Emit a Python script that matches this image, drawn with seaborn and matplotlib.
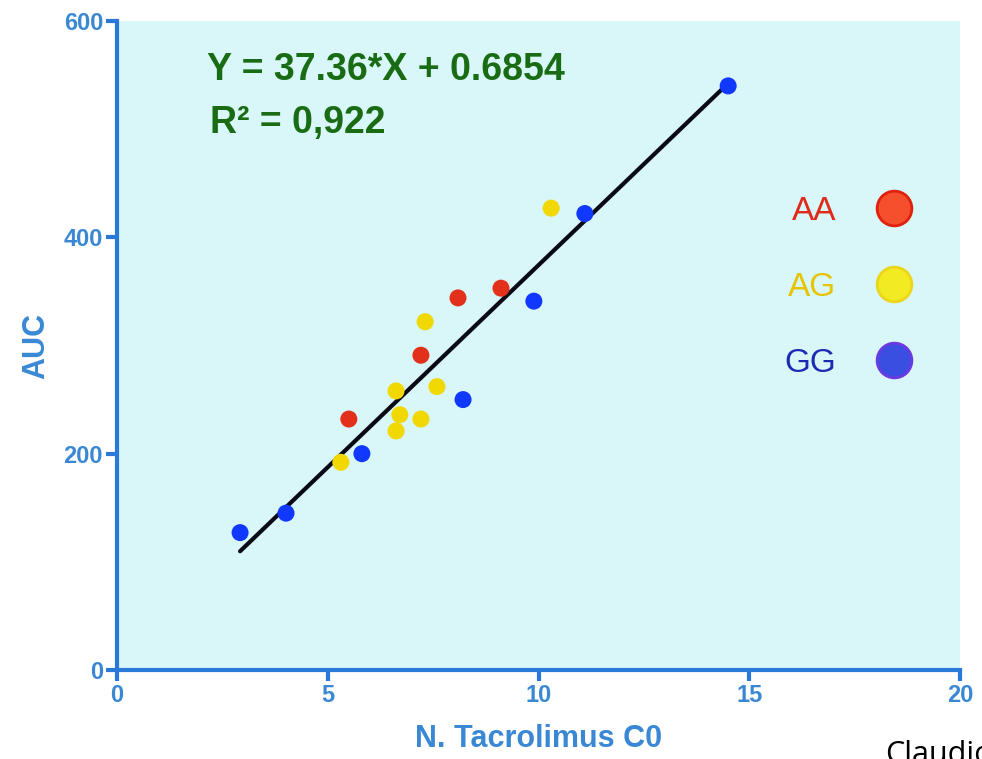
import matplotlib
matplotlib.use("Agg")
import matplotlib.pyplot as plt
from matplotlib.lines import Line2D
import numpy as np
import pandas as pd
import seaborn as sns

# values
AA_X = [5.50, 7.21, 8.09, 9.11]
AA_Y = [232, 291, 344, 353]
AG_X = [5.31, 6.62, 6.71, 7.21, 6.62, 7.59, 7.31, 10.30]
AG_Y = [192, 221, 236, 232, 258, 262, 322, 427]
GG_X = [2.92, 4.01, 5.81, 8.21, 9.89, 11.10, 14.50]
GG_Y = [127, 145, 200, 250, 341, 422, 540]
GENOTYPES = ["AA", "AG", "GG"]

SLOPE = 37.36
INTERCEPT = 0.6854
R2_TEXT = "0,922"

X_TICKS = [0, 5, 10, 15, 20]
Y_TICKS = [0, 200, 400, 600]

POINT_COLORS = {"AA": "#e2301a", "AG": "#f0d800", "GG": "#1038ff"}
LEGEND_FACE = {"AA": "#f5502e", "AG": "#f2ea22", "GG": "#3a4ee2"}
LEGEND_EDGE = {"AA": "#e0200e", "AG": "#ecd61c", "GG": "#6a3ae0"}
LEGEND_TEXT = {"AA": "#e02a1a", "AG": "#e6c400", "GG": "#1a2ab4"}
AXIS_BLUE = "#2a78d8"
LABEL_BLUE = "#3a88d4"
EQ_GREEN = "#1a6c14"

sns.set_theme(style="ticks")
plt.rcParams["font.family"] = ["Liberation Sans", "DejaVu Sans"]

df = pd.DataFrame({
    "x": AA_X + AG_X + GG_X,
    "y": AA_Y + AG_Y + GG_Y,
    "genotype": ["AA"] * len(AA_X) + ["AG"] * len(AG_X) + ["GG"] * len(GG_X),
})

fig, ax = plt.subplots(figsize=(9.82, 7.59), dpi=100)
fig.subplots_adjust(left=117 / 982, right=960 / 982,
                    bottom=1 - 670 / 759, top=1 - 21 / 759)
ax.set_facecolor("#d9f6f8")

# regression line over the range of the data
xs = np.array([df["x"].min(), df["x"].max()])
line = pd.DataFrame({"x": xs, "y": SLOPE * xs + INTERCEPT})
sns.lineplot(data=line, x="x", y="y", ax=ax, color="#0a0a14", lw=3.0,
             zorder=2)

sns.scatterplot(data=df, x="x", y="y", hue="genotype", palette=POINT_COLORS,
                s=150, linewidth=0, legend=False, ax=ax, zorder=3)

ax.set_xlim(0, 20)
ax.set_ylim(0, 600)
ax.set_xticks(X_TICKS)
ax.set_yticks(Y_TICKS)
sns.despine(ax=ax)
for side in ("left", "bottom"):
    ax.spines[side].set_color(AXIS_BLUE)
    ax.spines[side].set_linewidth(3.0)
ax.tick_params(axis="both", colors=AXIS_BLUE, width=3.0, length=8,
               labelsize=17, labelcolor=LABEL_BLUE, pad=2)
for lbl in ax.get_xticklabels() + ax.get_yticklabels():
    lbl.set_fontweight("bold")

ax.set_xlabel("N. Tacrolimus C0", fontsize=22, fontweight="bold",
              color=LABEL_BLUE, labelpad=12)
ax.set_ylabel("AUC", fontsize=22, fontweight="bold", color=LABEL_BLUE,
              labelpad=9)

ax.text(0.107, 0.909, f"Y = {SLOPE}*X + {INTERCEPT}", transform=ax.transAxes,
        fontsize=27, fontweight="bold", color=EQ_GREEN, va="baseline")
ax.text(0.110, 0.827, f"R\u00b2 = {R2_TEXT}", transform=ax.transAxes,
        fontsize=27, fontweight="bold", color=EQ_GREEN, va="baseline")

handles = [Line2D([], [], ls="", marker="o", ms=25, mew=2,
                  mfc=LEGEND_FACE[g], mec=LEGEND_EDGE[g]) for g in GENOTYPES]
ax.legend(handles, GENOTYPES, loc="center right", bbox_to_anchor=(0.944, 0.590),
          frameon=False, markerfirst=False, fontsize=24, handlelength=1.1,
          handletextpad=1.2, labelspacing=1.35, borderpad=0, borderaxespad=0,
          labelcolor=[LEGEND_TEXT[g] for g in GENOTYPES])

fig.text(885 / 982, 1 - 740 / 759, "Claudio", fontsize=22, color="black",
         va="top", family=["Open Sans", "DejaVu Sans"])

fig.savefig("out.png", dpi=100)
